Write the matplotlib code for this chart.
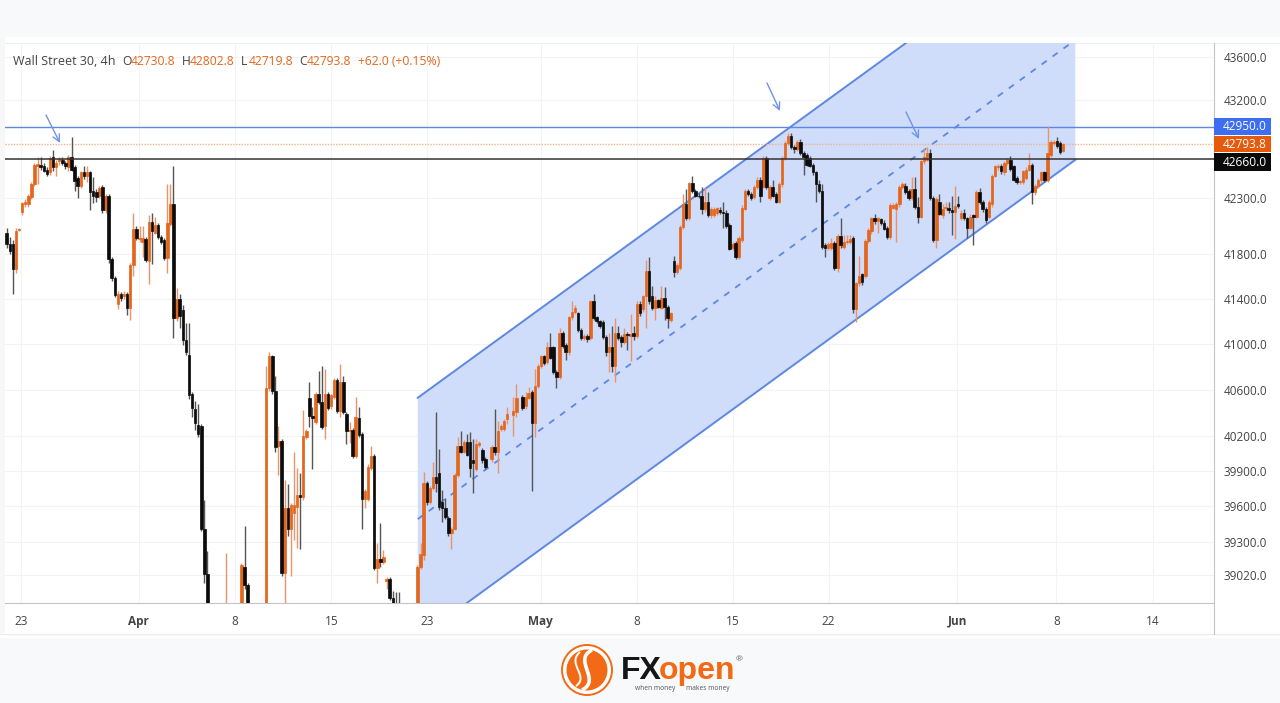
import numpy as np
import matplotlib
matplotlib.use('Agg')
import matplotlib.pyplot as plt
from matplotlib.patches import Rectangle, Circle, PathPatch
from matplotlib.path import Path

# bar numbers of the candles that can be seen (the rest are below the chart)
bars = (list(range(0, 66)) + [71] + list(range(76, 79)) + list(range(84, 128))
        + list(range(133, 154)) + [154, 155] + list(range(157, 163)) + [164, 165]
        + list(range(167, 343)))

opens = [
    41985,41890,41890,41665,42010,42180,42245,42245,42310,42425,42595,42605,
    42590,42560,42535,42680,42580,42635,42650,42625,42580,42680,42580,42480,
    42410,42535,42500,42535,42365,42355,42320,42400,42190,42320,41755,41585,
    41355,41440,41420,41440,41315,41695,42025,41935,41905,41935,41735,42085,
    41990,42060,41950,41920,41765,42070,42245,41230,41400,41295,41035,40905,
    40565,40435,40295,40285,39405,39030,
    38490, 38610,39085,38940,
    38490,40615,40890,40590,40110,40155,39035,39585,39410,39540,39590,39695,
    39680,40190,40530,40375,40320,40565,40495,40285,40565,40455,40540,40685,
    40415,40665,40390,40245,40250,40025,40355,40220,39660,39660,39925,40025,
    39080,39150,39125,38970,38990,38830,38775,38750,
    38610,39085,39185,39795,39635,39755,39850,39880,39635,39585,39495,39375,
    39410,39865,40110,40065,40145,40145,39990,39915,40120,
    40075,40000,
    40000,40105,40060,40260,40260,40350,
    40380,40410,
    40540,40455,40530,40580,40315,40635,40805,40890,40840,40975,40975,40755,40710,
    41095,40990,40925,41235,41280,41270,41120,41050,41070,41050,41375,41235,
    41200,41190,41060,40930,40975,40805,41095,41060,41015,41085,41070,41095,
    41070,41355,41305,41420,41650,41425,41315,41385,41320,41410,41330,41210,
    41735,41640,41675,42040,42245,42125,42435,42365,42325,42320,42200,42265,
    42145,42150,42170,42190,42180,42170,42060,41855,41895,41775,41920,42205,
    42365,42335,42310,42400,42470,42405,42670,42300,42405,42335,42270,42425,
    42670,42805,42870,42770,42750,42815,42715,42695,42670,42605,42535,42425,
    42365,41875,41855,41855,41895,41675,41960,41865,41905,41905,41945,41310,
    41535,41615,41605,41915,42000,42120,42090,42110,42080,42035,41950,42215,
    42200,42245,42400,42415,42365,42300,42385,42220,42135,42635,42650,42715,
    42300,41925,42265,42150,42210,42210,42190,42180,42245,42125,42170,42120,
    42035,42145,42135,42355,42265,42200,42135,42245,42505,42580,42595,42535,
    42625,42650,42590,42480,42445,42445,42480,42560,42605,42355,42410,42465,
    42535,42465,42695,42805,42825,42805,42730.8,
]
closes = [
    41890,41825,41665,42000,42020,42255,42270,42320,42425,42605,42615,42580,
    42550,42525,42670,42580,42625,42660,42625,42590,42680,42560,42455,42410,
    42535,42500,42535,42355,42320,42310,42390,42190,42320,41755,41585,41435,
    41440,41410,41440,41315,41700,42025,41940,41940,41940,41745,42085,42000,
    42060,41950,41905,41765,42080,42245,41230,41400,41250,41035,40925,40550,
    40445,40315,40220,39405,39030,38715,
    38715, 39105,38940,38695,
    40615,40890,40590,40105,40155,39035,39585,39410,39610,39610,39695,39680,
    40200,40245,40375,40355,40565,40495,40280,40565,40445,40550,40685,40415,
    40665,40410,40245,40250,40025,40365,40210,39660,39730,39935,40025,39080,
    39150,39125,39170,38990,38830,38695,38650,38650,
    39085,39195,39795,39635,39755,39850,39795,39590,39585,39505,39370,39410,
    39865,40110,40065,40145,40040,39925,39970,40130,40140,
    39990,39935,
    40105,40060,40245,40285,40330,40390,
    40415,40530,
    40445,40540,40575,40315,40635,40805,40890,40830,40975,40880,40755,40710,41095,
    40985,40925,41235,41280,41320,41120,41050,41070,41045,41375,41225,41200,
    41155,41060,40930,40975,40805,41095,41050,41015,41085,41080,41085,41070,
    41355,41270,41420,41650,41375,41315,41385,41330,41410,41330,41225,41270,
    41640,41700,42040,42245,42125,42435,42365,42325,42320,42200,42265,42150,
    42200,42200,42210,42180,42170,42050,41845,41885,41775,41940,42215,42365,
    42335,42300,42400,42470,42325,42670,42400,42400,42325,42270,42425,42670,
    42805,42870,42770,42750,42815,42715,42680,42605,42595,42535,42425,42365,
    41865,41855,41885,41895,41675,41960,41875,41905,41915,41930,41310,41535,
    41605,41545,41915,42010,42120,42090,42120,42080,42025,41950,42235,42235,
    42245,42400,42425,42355,42300,42385,42220,42135,42635,42680,42715,42300,
    41925,42290,42160,42200,42220,42190,42180,42230,42230,42170,42120,42035,
    42135,42135,42355,42265,42200,42100,42265,42505,42590,42595,42545,42625,
    42650,42570,42470,42445,42455,42545,42560,42605,42355,42410,42465,42535,
    42465,42715,42815,42815,42780,42725,42793.8,
]
highs = [
    42030,41950,41920,42030,42030,42270,42290,42335,42445,42625,42680,42680,
    42625,42580,42685,42740,42650,42680,42680,42640,42695,42860,42605,42500,
    42550,42595,42595,42550,42490,42380,42410,42420,42335,42335,41775,41605,
    41470,41460,41470,41460,41720,42170,42050,42050,42050,41950,42145,42170,
    42135,42080,41965,41945,42425,42425,42590,41490,41445,41340,41180,41180,
    40580,40505,40480,40305,39650,39220,
    39200, 39120,39435,38955,
    40805,40930,40905,40715,40285,40175,39825,39790,39625,40060,39925,39885,
    40420,40260,40670,40450,40580,40760,40805,40780,40580,40565,40700,40700,
    40820,40715,40410,40320,40270,40540,40450,40235,39745,39955,40110,40045,
    39290,39455,39225,39005,39005,38890,38880,38880,
    39100,39285,39890,39815,39770,39975,40410,40085,39735,39670,39515,39425,
    39880,40190,40245,40165,40220,40235,40175,40175,40155,
    40095,40015,
    40120,40435,40330,40305,40350,40450,
    40540,40650,
    40555,40580,40625,40600,40780,40820,40905,40905,41015,41100,40985,40770,41140,
    41115,41010,41250,41380,41340,41285,41140,41085,41085,41390,41445,41250,
    41215,41210,41080,41095,41160,41225,41160,41080,41140,41105,41265,41160,
    41375,41375,41435,41740,41775,41510,41425,41400,41510,41500,41345,41285,
    41780,41720,42060,42340,42385,42450,42500,42385,42345,42400,42400,42355,
    42220,42220,42225,42220,42270,42190,42080,41905,41915,41960,42235,42385,
    42385,42355,42420,42490,42490,42685,42685,42420,42470,42355,42445,42685,
    42825,42895,42895,42785,42830,42840,42730,42715,42685,42625,42550,42470,
    42425,41895,41905,41940,41915,41980,42125,41970,41970,41970,41960,41550,
    41780,41630,41935,42030,42135,42155,42135,42125,42100,42050,42255,42255,
    42265,42420,42445,42435,42385,42490,42490,42310,42650,42760,42770,42745,
    42320,42310,42340,42245,42265,42265,42320,42410,42320,42190,42200,42135,
    42155,42160,42375,42390,42280,42220,42280,42525,42605,42615,42615,42640,
    42670,42685,42605,42500,42470,42560,42580,42715,42625,42425,42480,42550,
    42550,42960,42830,42830,42860,42825,42802.8,
]
lows = [
    41855,41800,41445,41630,42000,42150,42225,42225,42290,42410,42425,42560,
    42535,42505,42515,42545,42500,42605,42605,42570,42545,42545,42365,42300,
    42390,42475,42445,42190,42255,42265,42300,42170,42170,41720,41560,41415,
    41305,41380,41400,41255,41210,41605,41925,41905,41770,41730,41530,41710,
    41975,41935,41885,41745,41630,42050,41055,41205,41140,40990,40900,40520,
    40365,40255,40190,39385,38955,38610,
    38405, 38490,38900,38570,
    38450,40590,40565,40060,39865,39010,38650,39350,39010,39310,39250,39240,
    39655,40175,40280,39920,40305,40480,40260,40175,40425,40435,40520,40400,
    40365,40390,40130,40140,40010,40010,40190,39405,39585,39640,39910,39065,
    38955,39085,39110,38905,38815,38610,38570,38570,
    38490,39070,39145,39610,39615,39735,39720,39565,39465,39490,39350,39240,
    39395,39850,40050,40050,40025,39850,39710,39900,40105,
    39970,39915,
    39980,40040,39880,40245,40245,40305,
    40200,40365,
    40425,40435,40515,39730,40190,40615,40790,40815,40820,40865,40735,40615,40695,
    40965,40860,40905,41215,41260,41105,41035,41035,41015,41035,41210,41180,
    41140,41045,40890,40755,40755,40670,41035,40975,41000,40945,40850,41035,
    41050,41250,41285,41140,41355,41295,41215,41315,41305,41215,41140,41190,
    41595,41620,41655,42020,42105,42105,42345,42310,42300,42155,42180,42135,
    42125,42135,42150,42160,42030,42030,41830,41835,41755,41755,41905,42190,
    42320,42280,42290,42380,42265,42390,42380,42280,42310,42255,42255,42405,
    42650,42785,42750,42715,42730,42695,42515,42590,42580,42515,42270,42345,
    41845,41770,41835,41835,41655,41640,41855,41845,41885,41885,41275,41190,
    41515,41525,41585,41895,41980,42070,41990,42060,42010,41935,41935,42200,
    41905,42225,42380,42340,42280,42280,42200,42080,42120,42615,42635,42280,
    41905,41855,42145,42125,42190,42170,41965,41935,42210,42105,42100,41945,
    42020,41875,42120,42245,42180,42080,42120,42225,42490,42560,42525,42515,
    42605,42550,42455,42425,42425,42425,42465,42545,42245,42330,42390,42445,
    42445,42445,42680,42785,42760,42705,42719.8,
]

# channel, bar number and price at the two ends
channel_bars = [133.1, 346.0]
channel_top = [40530, 44900]
channel_mid = [39490, 43760]
channel_low = [38490, 42650]

resistance = 42950
last_price = 42793.8
support = 42660

ytick_vals = [43600, 43200, 42300, 41800, 41400, 41000, 40600, 40200, 39900, 39600, 39300, 39020]
xtick_bars = [4.7, 42.8, 73.9, 105.1, 136.0, 172.9, 204.0, 235.0, 266.1, 307.7, 339.9, 371.0]
xtick_text = ['23', 'Apr', '8', '15', '23', 'May', '8', '15', '22', 'Jun', '8', '14']

ORANGE = '#e4661c'
BLUE = '#5d87e2'
FONT = 'Open Sans'
W, H = 1280, 703

fig = plt.figure(figsize=(W / 100, H / 100), dpi=100, facecolor='#f8f9fb')

# background and overlay work in image pixels
bg = fig.add_axes([0, 0, 1, 1], zorder=0)
bg.set_xlim(0, W)
bg.set_ylim(H, 0)
bg.axis('off')
bg.add_patch(Rectangle((0, 37), W, 601, fc='white', ec='none'))
bg.add_patch(Rectangle((0, 37), 5, 596, fc='#f7f7f8', ec='none'))
bg.plot([5, 1280], [43, 43], color='#f0f0f2', lw=0.8)
bg.plot([0, 1280], [634, 634], color='#eeeef0', lw=1.0)
bg.plot([1214, 1214], [43, 634], color='#c4c4c8', lw=0.8)

# the price pane
ax = fig.add_axes([5 / W, 1 - 603 / H, (1214 - 5) / W, (603 - 43) / H], zorder=2)
ax.patch.set_alpha(0)
ax.set_yscale('log')
ax.set_xlim(-0.55, 390.9)
ax.set_ylim(38786, 43731)
for s in ['top', 'left', 'right']:
    ax.spines[s].set_visible(False)
ax.spines['bottom'].set_color('#c4c4c8')
ax.spines['bottom'].set_linewidth(0.8)

ax.yaxis.tick_right()
ax.set_yticks(ytick_vals)
ax.set_yticklabels(['%.1f' % v for v in ytick_vals], fontsize=8.5, color='#444444', family=FONT)
ax.minorticks_off()
ax.tick_params(axis='y', which='both', length=0, pad=7)
ax.set_xticks(xtick_bars)
ax.set_xticklabels(xtick_text, fontsize=8.5, color='#444444', family=FONT)
for lab in ax.get_xticklabels():
    if lab.get_text() in ('Apr', 'May', 'Jun'):
        lab.set_fontweight('bold')
ax.tick_params(axis='x', length=0, pad=8.5)
ax.grid(True, color='#f2f3f5', lw=0.8, zorder=0)
ax.set_axisbelow(True)

# channel
xs = np.array(channel_bars)
ax.fill_between(xs, channel_low, channel_top, color='#cfdcfa', lw=0, zorder=1)
ax.plot(xs, channel_top, color=BLUE, lw=1.4, zorder=2)
ax.plot(xs, channel_low, color=BLUE, lw=1.4, zorder=2)
ax.plot(xs, channel_mid, color=BLUE, lw=1.3, ls=(0, (3.5, 4)), zorder=2)

# levels
ax.axhline(resistance, color=BLUE, lw=1.0, zorder=2)
ax.axhline(last_price, color='#f0b48e', lw=1.0, ls=(0, (1, 1)), zorder=2)
ax.axhline(support, color='#333333', lw=1.1, zorder=4)

# candles
b = np.array(bars, dtype=float)
o = np.array(opens)
c = np.array(closes)
hi = np.array(highs)
lo = np.array(lows)
up = c >= o
ax.vlines(b[up], lo[up], hi[up], color='#e9946a', lw=1.0, zorder=3)
ax.vlines(b[~up], lo[~up], hi[~up], color='#555555', lw=1.0, zorder=3)
ax.bar(b[up], (c - o)[up], bottom=o[up], width=0.8, color=ORANGE, ec=ORANGE, lw=0.5, zorder=3)
ax.bar(b[~up], (o - c)[~up], bottom=c[~up], width=0.8, color='#0c0c0c', ec='#0c0c0c', lw=0.5, zorder=3)

# overlay for labels, tags, arrows and the logo
ov = fig.add_axes([0, 0, 1, 1], zorder=5)
ov.set_xlim(0, W)
ov.set_ylim(H, 0)
ov.axis('off')
ov.patch.set_alpha(0)

ov.text(13, 61.5, 'Wall Street 30, 4h', fontsize=9.0, color='#444444', family=FONT, va='center')
header = [(122, 'O', '#444444'), (131, '42730.8', ORANGE), (182, 'H', '#444444'), (190, '42802.8', ORANGE),
          (241, 'L', '#444444'), (249, '42719.8', ORANGE), (299, 'C', '#444444'), (307, '42793.8', ORANGE),
          (358, '+62.0 (+0.15%)', ORANGE)]
for x, t, col in header:
    ov.text(x, 61.5, t, fontsize=8.7, color=col, family=FONT, va='center')

tags = [(118, 135, '#3d6df0', '42950.0'), (136, 152, '#e65a0c', '42793.8'), (153, 171, '#0a0a0a', '42660.0')]
for y0, y1, col, t in tags:
    ov.add_patch(Rectangle((1214, y0), 57, y1 - y0, fc=col, ec='none'))
    ov.text(1245, (y0 + y1) / 2, t, fontsize=8.6, color='white', family=FONT, ha='center', va='center')

for start, end in [((46, 115), (60, 143)), ((767, 83), (780, 111)), ((906, 112), (919, 139))]:
    ov.annotate('', xy=end, xytext=start,
                arrowprops=dict(arrowstyle='->,head_width=0.25,head_length=0.5', color='#6f95e6', lw=1.0,
                                shrinkA=0, shrinkB=0))

# logo: ring, orange disc and a white S swirl
lc = '#f26a16'
ov.add_patch(Circle((587, 670), 25, fc='white', ec=lc, lw=1.4))
ov.add_patch(Circle((587, 670), 20.5, fc=lc, ec='none'))
swirl = Path([(592, 650), (572, 660), (602, 680), (582, 690)],
             [Path.MOVETO, Path.CURVE4, Path.CURVE4, Path.CURVE4])
ov.add_patch(PathPatch(swirl, fc='none', ec='white', lw=2.6))
swirl2 = Path([(580, 652), (566, 664), (590, 676), (576, 686)],
              [Path.MOVETO, Path.CURVE4, Path.CURVE4, Path.CURVE4])
ov.add_patch(PathPatch(swirl2, fc='none', ec='white', lw=1.4))
ov.text(621, 671, 'FX', fontsize=23, fontweight='bold', color='#151515', family='Liberation Sans', va='center')
ov.text(659, 671, 'open', fontsize=23, fontweight='bold', color=lc, family='Liberation Sans', va='center')
ov.text(635, 688, 'when money', fontsize=4.8, color='#555555', family=FONT, va='center')
ov.text(686, 688, 'makes money', fontsize=4.8, color='#555555', family=FONT, va='center')
ov.text(739.5, 660, '®', fontsize=6, color='#666666', family=FONT, ha='center', va='center')

fig.savefig('out.png', dpi=100, facecolor=fig.get_facecolor())
